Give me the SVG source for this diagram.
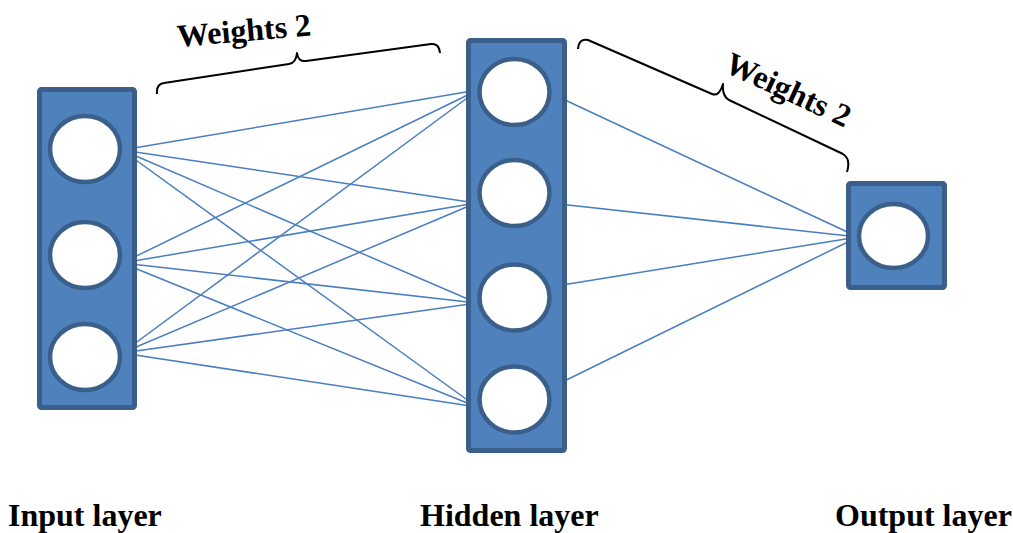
<svg xmlns="http://www.w3.org/2000/svg" width="1013" height="533" viewBox="0 0 1013 533">
  <defs>
    <style>
      .layer { fill: #4F81BD; stroke: #3A5F8B; stroke-width: 5; }
      .unit { fill: #FFFFFF; stroke: #3A5F8B; stroke-width: 4.5; }
      .link { stroke: #4A7EBF; stroke-width: 1.5; fill: none; }
      .brace { stroke: #000000; stroke-width: 2; fill: none; stroke-linejoin: round; }
      .lbl { font-family: "Liberation Serif", "Times New Roman", serif; font-weight: bold; font-size: 32px; fill: #000000; }
    </style>
  </defs>

  <rect width="1013" height="533" fill="#FFFFFF"/>

  <!-- weighted connections -->
  <g id="connectors">
    <!-- input -> hidden -->
    <line class="link" x1="122" y1="150" x2="478" y2="90"/>
    <line class="link" x1="122" y1="150" x2="476" y2="203"/>
    <line class="link" x1="122" y1="150" x2="477" y2="303"/>
    <line class="link" x1="122" y1="150" x2="477" y2="407"/>
    <line class="link" x1="122" y1="263" x2="478" y2="90"/>
    <line class="link" x1="122" y1="263" x2="476" y2="203"/>
    <line class="link" x1="122" y1="263" x2="477" y2="303"/>
    <line class="link" x1="122" y1="263" x2="477" y2="407"/>
    <line class="link" x1="122" y1="353" x2="478" y2="90"/>
    <line class="link" x1="122" y1="353" x2="476" y2="203"/>
    <line class="link" x1="122" y1="353" x2="477" y2="303"/>
    <line class="link" x1="122" y1="353" x2="477" y2="407"/>
    <!-- hidden -> output -->
    <line class="link" x1="550" y1="93" x2="858" y2="237"/>
    <line class="link" x1="550" y1="203" x2="858" y2="237"/>
    <line class="link" x1="550" y1="287" x2="858" y2="237"/>
    <line class="link" x1="550" y1="388" x2="858" y2="237"/>
  </g>

  <g id="input-layer">
    <rect class="layer" x="39.5" y="89.5" width="95" height="318" rx="2"/>
    <ellipse class="unit" cx="85" cy="149" rx="35" ry="33"/>
    <ellipse class="unit" cx="85" cy="255" rx="35" ry="33"/>
    <ellipse class="unit" cx="85" cy="357" rx="35" ry="33"/>
  </g>

  <g id="hidden-layer">
    <rect class="layer" x="468.5" y="40.5" width="96" height="410" rx="2"/>
    <ellipse class="unit" cx="514.5" cy="92" rx="35" ry="33"/>
    <ellipse class="unit" cx="514.5" cy="193" rx="35" ry="33"/>
    <ellipse class="unit" cx="514.5" cy="297.5" rx="35" ry="33"/>
    <ellipse class="unit" cx="514.5" cy="399.5" rx="35" ry="33"/>
  </g>

  <g id="output-layer">
    <rect class="layer" x="848.5" y="183.5" width="96" height="104" rx="2"/>
    <ellipse class="unit" cx="893.5" cy="236" rx="34.5" ry="32"/>
  </g>

  <!-- braces over the two weight sets -->
  <g id="weights-1">
    <path class="brace" d="M157,94 Q156,84 164,83 L289,64 Q296,63 297,53 Q298,62 306,61 L431,44 Q439,43 440,53"/>
    <text class="lbl" transform="translate(178,47) rotate(-5)">Weights 2</text>
  </g>

  <g id="weights-2">
    <path class="brace" d="M578,49 Q579,38 588,40 L712,94 Q719,97 723,84 Q722,96 729,100 L843,154 Q851,159 847,172"/>
    <text class="lbl" transform="translate(723,71) rotate(25)">Weights 2</text>
  </g>

  <!-- layer captions -->
  <text class="lbl" x="8" y="526">Input layer</text>
  <text class="lbl" x="420" y="526">Hidden layer</text>
  <text class="lbl" x="835" y="526">Output layer</text>
</svg>
